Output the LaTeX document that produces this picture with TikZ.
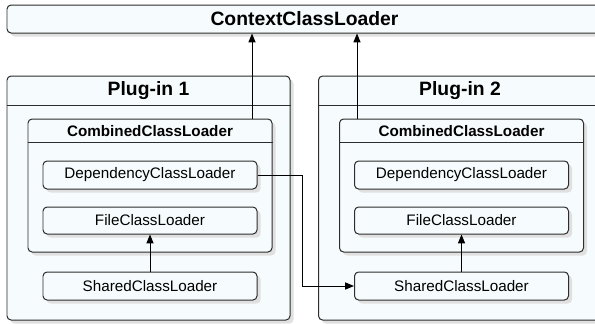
\documentclass[tikz,border=0pt]{standalone}
\usepackage{fontspec}
\setmainfont{Liberation Sans}
\usetikzlibrary{arrows.meta,positioning,shadows}
\definecolor{boxFill}{RGB}{246,252,253}
\definecolor{boxLine}{RGB}{45,45,45}
\definecolor{shadowGray}{RGB}{224,224,224}
\newcommand{\pxu}{0.03cm}
\tikzset{
  loaderbox/.style={draw=boxLine, line width=0.85pt, fill=boxFill, rounded corners=3.5pt,
    inner sep=0pt, drop shadow={shadow xshift=3pt, shadow yshift=-3pt, fill=shadowGray, opacity=1}},
  innerbox/.style={loaderbox, minimum width=214*\pxu, minimum height=28*\pxu,
    font=\fontsize{13}{15}\selectfont},
  titletext/.style={inner sep=0pt, font=\bfseries\fontsize{16.5}{19}\selectfont},
  combtext/.style={inner sep=0pt, font=\bfseries\fontsize{13}{15}\selectfont},
  sepline/.style={draw=boxLine, line width=0.85pt},
  loadarrow/.style={draw=black, line width=0.85pt, -{Triangle[length=7.5pt,width=6pt]}}
}

\begin{document}
\begin{tikzpicture}[x=\pxu, y=-\pxu]
  \fill[white] (0,0) rectangle (595,323);
  \useasboundingbox (0,0) rectangle (595,323);
  \clip (0,0) rectangle (595,323);
  % top loader
  \node[loaderbox, minimum width=595*\pxu, minimum height=28*\pxu,
    font=\bfseries\fontsize{16.5}{19}\selectfont] (ctx) at (304.5,19) {ContextClassLoader};
  % the two plug-ins
  \foreach \n/\dx in {1/0, 2/311.5} {
    \begin{scope}[xshift=\dx*\pxu]
      \node[loaderbox, minimum width=283*\pxu, minimum height=244*\pxu] (plug\n) at (148.5,198) {};
      \node[titletext, minimum height=30*\pxu, below=0pt of plug\n.north] (plug\n title) {Plug-in \n};
      \draw[sepline] (plug\n title.south -| plug\n.west) -- (plug\n title.south -| plug\n.east);
      \node[loaderbox, minimum width=244*\pxu, minimum height=133*\pxu] (comb\n) at (150,185.5) {};
      \node[combtext, minimum height=24*\pxu, below=0pt of comb\n.north] (comb\n title) {CombinedClassLoader};
      \draw[sepline] (comb\n title.south -| comb\n.west) -- (comb\n title.south -| comb\n.east);
      \node[innerbox] (dep\n) at (150,175) {DependencyClassLoader};
      \node[innerbox, minimum height=27*\pxu] (file\n) at (150,220.5) {FileClassLoader};
      \node[innerbox] (shared\n) at (150,286) {SharedClassLoader};
      \draw[loadarrow] (shared\n) -- (file\n);
    \end{scope}
  }
  % connectors
  \draw[loadarrow] ([xshift=102*\pxu]comb1.north) -- ([xshift=102*\pxu]comb1.north |- ctx.south);
  \draw[loadarrow] ([xshift=-104.5*\pxu]comb2.north) -- ([xshift=-104.5*\pxu]comb2.north |- ctx.south);
  \draw[loadarrow] (dep1.east) -- ++(45,0) |- (shared2.west);
\end{tikzpicture}
\end{document}
